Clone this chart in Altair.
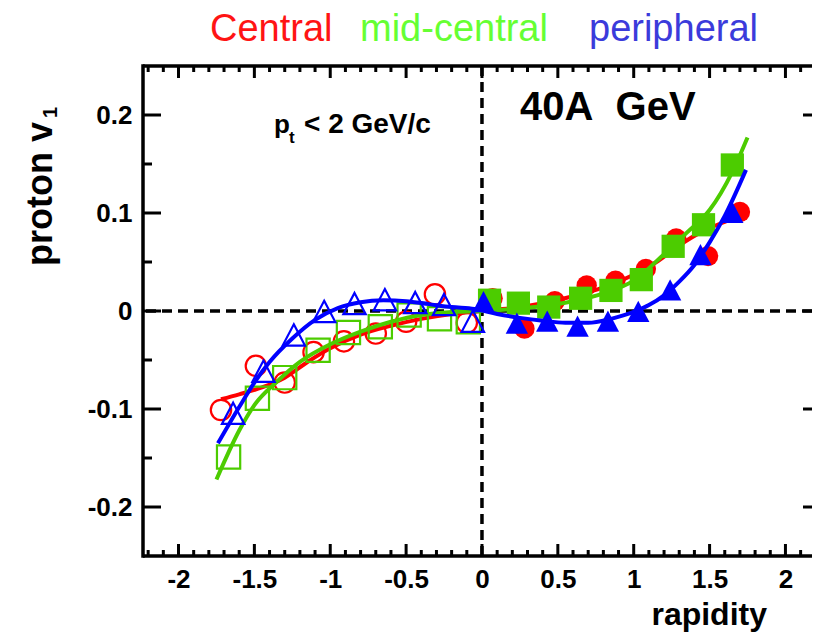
import altair as alt
import pandas as pd

# ---------------- data ----------------
# Central (red): open circles y<0, filled circles y>0
central_x_neg = [-1.72, -1.49, -1.30, -1.11, -0.91, -0.70, -0.50, -0.31, -0.10]
central_v_neg = [-0.101, -0.056, -0.073, -0.042, -0.031, -0.023, -0.011, 0.017, -0.012]
central_x_pos = [0.07, 0.28, 0.48, 0.69, 0.88, 1.08, 1.28, 1.49, 1.70]
central_v_pos = [0.013, -0.018, 0.010, 0.026, 0.031, 0.043, 0.074, 0.056, 0.101]

# mid-central (green): open squares y<0, filled squares y>0
mid_x_neg = [-1.67, -1.48, -1.30, -1.08, -0.88, -0.67, -0.48, -0.28, -0.09]
mid_v_neg = [-0.149, -0.089, -0.068, -0.040, -0.022, -0.016, -0.004, -0.008, -0.011]
mid_x_pos = [0.05, 0.24, 0.44, 0.65, 0.85, 1.05, 1.26, 1.46, 1.65]
mid_v_pos = [0.011, 0.008, 0.004, 0.013, 0.021, 0.032, 0.066, 0.088, 0.149]

# peripheral (blue): open triangles y<0, filled triangles y>0
per_x_neg = [-1.64, -1.44, -1.24, -1.04, -0.84, -0.64, -0.44, -0.25, -0.06]
per_v_neg = [-0.105, -0.062, -0.025, -0.001, 0.007, 0.011, 0.008, 0.006, -0.011]
per_x_pos = [0.01, 0.23, 0.43, 0.63, 0.83, 1.03, 1.24, 1.44, 1.65]
per_v_pos = [0.009, -0.013, -0.011, -0.016, -0.011, -0.001, 0.021, 0.057, 0.100]

# fitted curves
central_fit_x = [-1.72, -1.6, -1.45, -1.3, -1.15, -1.0, -0.8, -0.6, -0.4, -0.2, 0.0,
                 0.2, 0.4, 0.6, 0.8, 1.0, 1.15, 1.3, 1.45, 1.6, 1.72]
central_fit_v = [-0.090, -0.085, -0.078, -0.068, -0.052, -0.038, -0.024, -0.015, -0.008, -0.003, 0.0,
                 0.003, 0.008, 0.015, 0.024, 0.037, 0.050, 0.067, 0.081, 0.091, 0.098]
mid_fit_x = [-1.75, -1.6, -1.5, -1.35, -1.2, -1.0, -0.8, -0.6, -0.4, -0.2, 0.0,
             0.2, 0.4, 0.6, 0.8, 1.0, 1.2, 1.35, 1.5, 1.65, 1.75]
mid_fit_v = [-0.172, -0.122, -0.096, -0.072, -0.052, -0.034, -0.021, -0.011, -0.004, -0.001, 0.0,
             0.002, 0.005, 0.010, 0.018, 0.031, 0.058, 0.080, 0.103, 0.142, 0.177]
per_fit_x = [-1.74, -1.6, -1.5, -1.4, -1.25, -1.1, -0.95, -0.8, -0.65, -0.5, -0.35, -0.2, -0.05,
             0.1, 0.25, 0.4, 0.55, 0.7, 0.85, 1.0, 1.1, 1.2, 1.3, 1.4, 1.5, 1.6, 1.74]
per_fit_v = [-0.135, -0.098, -0.073, -0.052, -0.028, -0.009, 0.003, 0.009, 0.011, 0.010, 0.007, 0.004, 0.002,
             -0.003, -0.007, -0.010, -0.012, -0.012, -0.008, -0.001, 0.006, 0.016, 0.030, 0.047, 0.070, 0.097, 0.144]

# axis ticks
x_major = [-2, -1.5, -1, -0.5, 0, 0.5, 1, 1.5, 2]
x_minor = [round(-2.2 + 0.1 * i, 1) for i in range(45) if round((-2.2 + 0.1 * i) * 2, 6) % 1 != 0]
y_major = [-0.2, -0.1, 0, 0.1, 0.2]
y_minor = [-0.15, -0.05, 0.05, 0.15]

# ---------------- styling ----------------
W, H = 669, 490
RED, GREEN, BLUE = "#ff0000", "#4ccc00", "#0000ff"
FONT = "Liberation Sans"
TRI = "M0,-1L1,0.9L-1,0.9Z"

xs = alt.Scale(domain=[-2.234, 2.175], nice=False, zero=False)
ys = alt.Scale(domain=[-0.25, 0.25], nice=False, zero=False)
lab = "replace(format(datum.value, '~g'), '\u2212', '-')"
xaxis = alt.Axis(values=x_major, labelExpr=lab, ticks=False, tickSize=0, domain=False, grid=False,
                 labelFont=FONT, labelFontWeight="bold", labelFontSize=26, labelColor="black",
                 labelPadding=10, title=None, labelFlush=False, labelOverlap=False)
yaxis = alt.Axis(values=y_major, labelExpr=lab, ticks=False, tickSize=0, domain=False, grid=False,
                 labelFont=FONT, labelFontWeight="bold", labelFontSize=26, labelColor="black",
                 labelPadding=11, title=None, labelFlush=False, labelOverlap=False)


def X(f="x"):
    return alt.X(f"{f}:Q", scale=xs, axis=xaxis)


def Y(f="y"):
    return alt.Y(f"{f}:Q", scale=ys, axis=yaxis)


def df(xv, yv):
    return pd.DataFrame({"x": xv, "y": yv})


ONE = alt.Data(values=[{}])
layers = []

# dashed zero lines
layers.append(alt.Chart(ONE).mark_rule(color="black", strokeWidth=3.5, strokeDash=[10, 6])
              .encode(y=alt.datum(0, type="quantitative", scale=ys, axis=yaxis)))
layers.append(alt.Chart(ONE).mark_rule(color="black", strokeWidth=3.5, strokeDash=[10, 6])
              .encode(x=alt.datum(0, type="quantitative", scale=xs, axis=xaxis)))

# frame (left, top, bottom; the right edge lies just beyond the picture)
layers.append(alt.Chart(ONE).mark_rule(color="black", strokeWidth=3.5)
              .encode(x=alt.value(0), y=alt.value(-1.75), y2=alt.value(H + 1.75)))
layers.append(alt.Chart(ONE).mark_rule(color="black", strokeWidth=3.5)
              .encode(y=alt.value(0), x=alt.value(0), x2=alt.value(W)))
layers.append(alt.Chart(ONE).mark_rule(color="black", strokeWidth=3.5)
              .encode(y=alt.value(H), x=alt.value(0), x2=alt.value(W)))

# inward ticks
xmaj = pd.DataFrame({"x": x_major})
xmin = pd.DataFrame({"x": x_minor})
ymaj = pd.DataFrame({"y": y_major})
ymin = pd.DataFrame({"y": y_minor})
for d, L in ((xmaj, 12), (xmin, 6)):
    layers.append(alt.Chart(d).mark_rule(color="black", strokeWidth=3)
                  .encode(x=X(), y=alt.value(H), y2=alt.value(H - L)))
    layers.append(alt.Chart(d).mark_rule(color="black", strokeWidth=3)
                  .encode(x=X(), y=alt.value(0), y2=alt.value(L)))
for d, L in ((ymaj, 18), (ymin, 9)):
    layers.append(alt.Chart(d).mark_rule(color="black", strokeWidth=3)
                  .encode(y=Y(), x=alt.value(0), x2=alt.value(L)))
layers.append(alt.Chart(ymaj).mark_rule(color="black", strokeWidth=3)
              .encode(y=Y(), x=alt.value(W - 9), x2=alt.value(W)))


def series(fx, fv, xn, vn, xp, vp, color, shape, size):
    out = [alt.Chart(df(fx, fv)).mark_line(color=color, strokeWidth=4, interpolate="monotone")
           .encode(x=X(), y=Y())]
    out.append(alt.Chart(df(xn, vn)).mark_point(shape=shape, size=size, filled=False, color=color,
                                               strokeWidth=2.2, opacity=1).encode(x=X(), y=Y()))
    out.append(alt.Chart(df(xp, vp)).mark_point(shape=shape, size=size, filled=True, color=color,
                                               opacity=1).encode(x=X(), y=Y()))
    return out


layers += series(central_fit_x, central_fit_v, central_x_neg, central_v_neg,
                 central_x_pos, central_v_pos, RED, "circle", 415)
layers += series(mid_fit_x, mid_fit_v, mid_x_neg, mid_v_neg, mid_x_pos, mid_v_pos, GREEN, "square", 540)
layers += series(per_fit_x, per_fit_v, per_x_neg, per_v_neg, per_x_pos, per_v_pos, BLUE, TRI, 500)


def txt(s, x, y, size, color="black", weight="bold", align="left", angle=0):
    return (alt.Chart(ONE)
            .mark_text(x=x, y=y, fontSize=size, font=FONT, fontWeight=weight, color=color,
                       align=align, baseline="alphabetic", angle=angle)
            .encode(text=alt.value(s)))


layers += [
    txt("Central", 67, -25, 38, color="#ff1414", weight="normal"),
    txt("mid-central", 217, -25, 38, color="#66ff33", weight="normal"),
    txt("peripheral", 446, -25, 38, color="#3b3bdb", weight="normal"),
    txt("40A\u00a0 GeV", 377, 54, 40),
    txt("p", 131, 67, 26),
    txt("t", 146, 77, 17),
    txt("< 2 GeV/c", 161, 67, 28),
    txt("rapidity", 624, 559, 32, align="right"),
    txt("proton v", -91, 200, 36, angle=270),
    txt("1", -86, 52, 20, angle=270),
]

chart = (alt.layer(*layers)
         .properties(width=W, height=H, background="white",
                     padding={"left": 135, "top": 58, "right": 0, "bottom": 76},
                     autosize=alt.AutoSizeParams(type="none"))
         .configure_view(strokeWidth=0))

chart.save("out.html", embed_options={"renderer": "svg", "actions": False})
